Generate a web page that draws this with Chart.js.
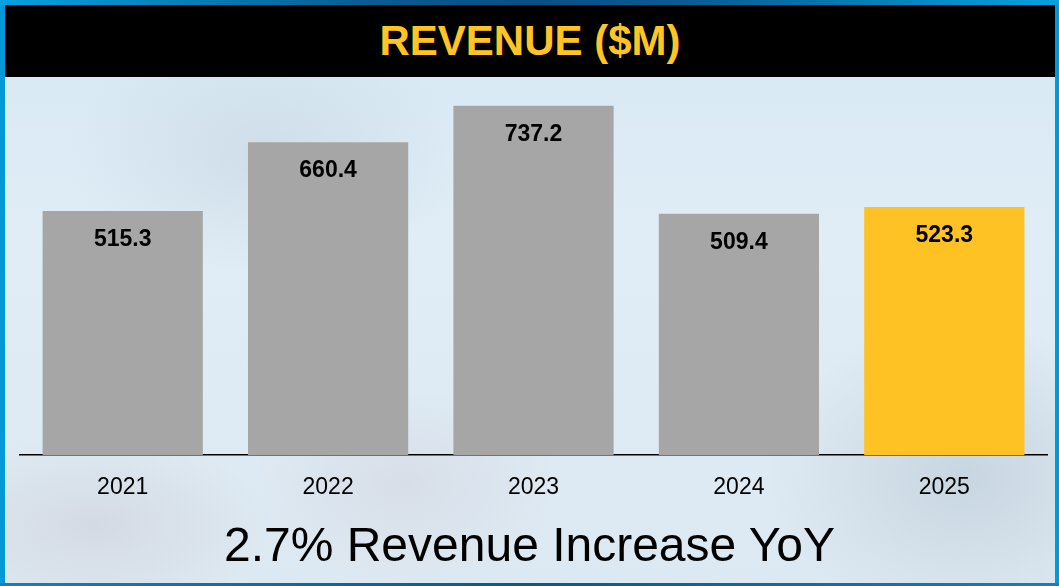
<!DOCTYPE html>
<html>
<head>
<meta charset="utf-8">
<script src="https://cdn.jsdelivr.net/npm/chart.js@4"></script>
<style>
  html, body { margin: 0; padding: 0; }
  body { width: 1059px; height: 586px; overflow: hidden; font-family: "Liberation Sans", Arial, sans-serif; }
  #frame { position: absolute; left: 0; top: 0; width: 1059px; height: 586px; background: #0399d8; }
  #topEdge { position: absolute; left: 0; top: 0; width: 1059px; height: 5px;
    background: linear-gradient(90deg, #05a2e0 0%, #075d92 35%, #0a4f85 50%, #075d92 65%, #05a2e0 100%); }
  #bottomEdge { position: absolute; left: 0; bottom: 0; width: 1059px; height: 3px;
    background: linear-gradient(90deg, #0486c4 0%, #065a8e 50%, #0486c4 100%); }
  #panel { position: absolute; left: 5px; top: 5px; width: 1050px; height: 578px; overflow: hidden;
    background:
      radial-gradient(ellipse 180px 90px at 90px 520px, rgba(205,205,215,0.55), rgba(205,205,215,0) 100%),
      radial-gradient(ellipse 200px 120px at 260px 150px, rgba(190,205,218,0.45), rgba(190,205,218,0) 100%),
      radial-gradient(ellipse 200px 150px at 960px 470px, rgba(185,200,212,0.6), rgba(185,200,212,0) 100%),
      radial-gradient(ellipse 160px 100px at 400px 480px, rgba(210,210,222,0.5), rgba(210,210,222,0) 100%),
      linear-gradient(180deg, #d6e8f3 0%, #e0edf6 40%, #dde9f2 100%); }
  #titleBar { position: absolute; left: 5px; top: 5px; width: 1050px; height: 72px; background: #000;
    color: #ffc425; font-weight: bold; font-size: 42px; line-height: 72px; text-align: center; }
  #subtitle { position: absolute; left: 0; top: 521px; width: 1059px; text-align: center;
    font-size: 48px; line-height: 48px; color: #000; }
  #chartBox { position: absolute; left: 0; top: 0; width: 1059px; height: 586px; }
</style>
</head>
<body>
<div id="frame"></div>
<div id="topEdge"></div>
<div id="bottomEdge"></div>
<div id="panel"></div>
<div id="titleBar">REVENUE ($M)</div>
<div id="chartBox"><canvas id="revenueChart" width="1059" height="586"></canvas></div>
<div id="subtitle">2.7% Revenue Increase YoY</div>
<script>
// chart values
const years = ["2021", "2022", "2023", "2024", "2025"];
const revenue = [515.3, 660.4, 737.2, 509.4, 523.3];
const barColors = ["#a6a6a6", "#a6a6a6", "#a6a6a6", "#a6a6a6", "#ffc224"];

// draw the value inside the top of each bar
const valueLabels = {
    id: "valueLabels",
    afterDatasetsDraw(chart) {
        const ctx = chart.ctx;
        const meta = chart.getDatasetMeta(0);
        ctx.save();
        ctx.font = "bold 23px 'Liberation Sans', Arial, sans-serif";
        ctx.fillStyle = "#000";
        ctx.textAlign = "center";
        ctx.textBaseline = "middle";
        meta.data.forEach(function (bar, i) {
            ctx.fillText(revenue[i].toFixed(1), bar.x, bar.y + 29);
        });
        ctx.restore();
    }
};

const ctx = document.getElementById("revenueChart").getContext("2d");
const chartObject = new Chart(ctx, {
    type: "bar",
    data: {
        labels: years,
        datasets: [{
            data: revenue,
            backgroundColor: barColors,
            borderWidth: 0,
            barPercentage: 0.78,
            categoryPercentage: 1.0
        }]
    },
    options: {
        responsive: false,
        animation: false,
        layout: { padding: { left: 20, right: 12, top: 76, bottom: 0 } },
        plugins: {
            legend: { display: false },
            tooltip: { enabled: false }
        },
        scales: {
            x: {
                grid: { display: false, drawTicks: false },
                border: { display: true, color: "#000", width: 1.5 },
                ticks: {
                    color: "#000",
                    padding: 19,
                    font: { family: "'Liberation Sans', Arial, sans-serif", size: 23 }
                },
                afterFit: function (scale) { scale.height = 131; }
            },
            y: {
                display: false,
                min: 0,
                max: 800
            }
        }
    },
    plugins: [valueLabels]
});
</script>
</body>
</html>
